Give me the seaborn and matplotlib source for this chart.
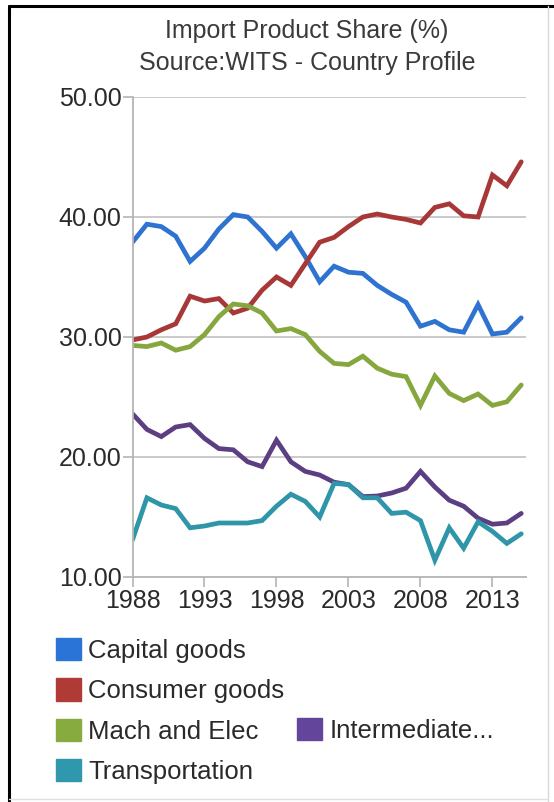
import matplotlib
matplotlib.use("Agg")
import matplotlib.pyplot as plt
import seaborn as sns
import pandas as pd
from matplotlib.patches import Patch
from matplotlib.lines import Line2D

years = list(range(1988, 2016))
capital_goods = [37.9, 39.4, 39.2, 38.4, 36.3, 37.4, 39.0, 40.2, 40.0, 38.8, 37.4, 38.6, 36.7, 34.6,
                 35.9, 35.4, 35.3, 34.3, 33.55, 32.9, 30.9, 31.3, 30.6, 30.4, 32.7, 30.25, 30.4, 31.6]
consumer_goods = [29.75, 30.0, 30.6, 31.1, 33.4, 33.0, 33.2, 32.0, 32.4, 33.9, 35.0, 34.3, 36.1, 37.9,
                  38.3, 39.2, 40.0, 40.25, 40.0, 39.8, 39.5, 40.8, 41.1, 40.1, 40.0, 43.5, 42.6, 44.6]
mach_and_elec = [29.3, 29.2, 29.5, 28.9, 29.2, 30.2, 31.7, 32.75, 32.6, 32.0, 30.5, 30.7, 30.2, 28.8,
                 27.8, 27.7, 28.4, 27.4, 26.9, 26.7, 24.3, 26.75, 25.3, 24.7, 25.25, 24.3, 24.6, 26.0]
intermediate = [23.6, 22.3, 21.7, 22.5, 22.7, 21.55, 20.7, 20.6, 19.6, 19.2, 21.4, 19.6, 18.8, 18.5,
                17.9, 17.7, 16.7, 16.75, 17.0, 17.4, 18.8, 17.5, 16.4, 15.9, 14.9, 14.4, 14.5, 15.3]
transportation = [13.1, 16.6, 16.0, 15.7, 14.1, 14.25, 14.5, 14.5, 14.5, 14.7, 15.9, 16.9, 16.3, 15.0,
                  17.8, 17.7, 16.6, 16.6, 15.3, 15.4, 14.7, 11.4, 14.1, 12.4, 14.6, 13.8, 12.8, 13.6]

series_names = ["Capital goods", "Consumer goods", "Mach and Elec", "Intermediate...", "Transportation"]
series_values = [capital_goods, consumer_goods, mach_and_elec, intermediate, transportation]
line_colors = ["#2f73d0", "#a83838", "#86a63e", "#5c3f82", "#2e96a8"]
swatch_colors = ["#2a74d8", "#b03a36", "#88ab3f", "#63469b", "#2f98ad"]
y_ticks = [10, 20, 30, 40, 50]
x_ticks = [1988, 1993, 1998, 2003, 2008, 2013]

rows = []
for name, vals in zip(series_names, series_values):
    for y, v in zip(years, vals):
        rows.append({"Year": y, "Share": v, "Series": name})
df = pd.DataFrame(rows)

sns.set_theme(style="white")
plt.rcParams["font.family"] = ["Liberation Sans", "DejaVu Sans"]

W, H = 554, 802
fig = plt.figure(figsize=(W / 100, H / 100), dpi=100)
ax = fig.add_axes([132.5 / W, 1 - 577 / H, (526 - 132.5) / W, (577 - 97) / H])

sns.lineplot(data=df, x="Year", y="Share", hue="Series", hue_order=series_names,
             palette=dict(zip(series_names, line_colors)), linewidth=3.4, ax=ax,
             legend=False, solid_joinstyle="miter")

ax.set_xlim(1988, 2015.33)
ax.set_ylim(10, 50)
ax.set_yticks(y_ticks)
ax.set_yticklabels([f"{v:.2f}" for v in y_ticks])
ax.set_xticks(x_ticks)
ax.set_xticklabels([str(v) for v in x_ticks])
ax.set_xlabel("")
ax.set_ylabel("")
for v in y_ticks[1:]:
    ax.axhline(v, color="#c6c6c6", linewidth=1.3, zorder=0)
for s in ["top", "right"]:
    ax.spines[s].set_visible(False)
for s in ["left", "bottom"]:
    ax.spines[s].set_color("#b4b4b4")
    ax.spines[s].set_linewidth(1.3)
ax.tick_params(axis="both", which="major", length=7, width=1.2, color="#b4b4b4",
               labelsize=18, labelcolor="#2a2a2a", pad=1, direction="out",
               left=True, bottom=True)
ax.tick_params(axis="x", pad=2)

fig.text(307 / W, 1 - 31 / H, "Import Product Share (%)", ha="center", va="center",
         fontsize=18, color="#3a3a3a")
fig.text(307 / W, 1 - 63 / H, "Source:WITS - Country Profile", ha="center", va="center",
         fontsize=18, color="#3a3a3a")

def handle(c):
    return Patch(facecolor=c, edgecolor=c)

main_idx = [0, 1, 2, 4]
leg_kw = dict(frameon=False, fontsize=18.5, handlelength=0.95, handleheight=0.95,
              handletextpad=0.3, borderaxespad=0, borderpad=0.2)
leg1 = fig.legend([handle(swatch_colors[i]) for i in main_idx],
                  [series_names[i] for i in main_idx],
                  loc="upper left", bbox_to_anchor=(51 / W, 1 - 633 / H),
                  labelspacing=0.6, **leg_kw)
for t in leg1.get_texts():
    t.set_color("#2a2a2a")
leg2 = fig.legend([handle(swatch_colors[3])], [series_names[3]],
                  loc="upper left", bbox_to_anchor=(292 / W, 1 - 713 / H), **leg_kw)
for t in leg2.get_texts():
    t.set_color("#2a2a2a")

# outer frame
fig.add_artist(Line2D([9 / W, 9 / W], [0, 1 - 6 / H], transform=fig.transFigure,
                      color="black", linewidth=2.2))
fig.add_artist(Line2D([9 / W, 1], [1 - 6 / H, 1 - 6 / H], transform=fig.transFigure,
                      color="black", linewidth=2.2))
fig.add_artist(Line2D([548 / W, 548 / W], [0, 1 - 6 / H], transform=fig.transFigure,
                      color="#d8d8d8", linewidth=1))
fig.add_artist(Line2D([9 / W, 548 / W], [3 / H, 3 / H], transform=fig.transFigure,
                      color="#e0e0e0", linewidth=1))

fig.savefig("out.png", dpi=100, facecolor="white")
